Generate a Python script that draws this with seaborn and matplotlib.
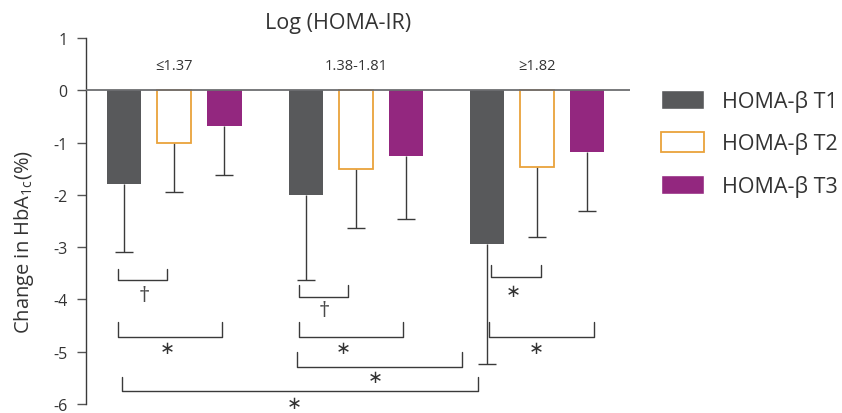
import matplotlib
matplotlib.use("Agg")
import matplotlib.pyplot as plt
from matplotlib.container import BarContainer
import seaborn as sns
import pandas as pd
import numpy as np

# Mean change in HbA1c (%) by HOMA-IR stratum and HOMA-beta tertile
groups = ["\u22641.37", "1.38-1.81", "\u22651.82"]
series = ["HOMA-\u03b2 T1", "HOMA-\u03b2 T2", "HOMA-\u03b2 T3"]
t1_mean = [-1.79, -2.00, -2.94]
t2_mean = [-1.00, -1.50, -1.47]
t3_mean = [-0.68, -1.25, -1.18]
t1_sd = [1.31, 1.62, 2.29]
t2_sd = [0.94, 1.14, 1.33]
t3_sd = [0.94, 1.22, 1.13]
y_ticks = [1, 0, -1, -2, -3, -4, -5, -6]

sns.set_theme(style="white")
plt.rcParams["font.family"] = ["Open Sans", "DejaVu Sans"]
plt.rcParams["axes.unicode_minus"] = False
plt.rcParams["mathtext.default"] = "regular"

TEXT = "#333333"
LINE = "#3a3a3a"
colors = {"HOMA-\u03b2 T1": "#58595b", "HOMA-\u03b2 T2": "#ffffff", "HOMA-\u03b2 T3": "#93277f"}
T2_EDGE = "#e9a23b"

means = [t1_mean, t2_mean, t3_mean]
sds = [t1_sd, t2_sd, t3_sd]
df = pd.DataFrame({
    "group": [g for s in series for g in groups],
    "series": [s for s in series for g in groups],
    "value": [v for m in means for v in m],
})

fig = plt.figure(figsize=(8.42, 4.14), dpi=100)
ax = fig.add_axes([86 / 842, 9 / 414, 544 / 842, 366 / 414])

sns.barplot(data=df, x="group", y="value", hue="series", order=groups,
            hue_order=series, palette=colors, width=0.828, gap=0.32,
            errorbar=None, saturation=1, ax=ax, legend=True, zorder=3)

# Style the open T2 bars and add one-sided (downward) SD whiskers
bar_sets = [c for c in ax.containers if isinstance(c, BarContainer)]
for i, cont in enumerate(bar_sets):
    xs = []
    for p in cont.patches:
        p.set_linewidth(0)
        if i == 1:
            p.set_edgecolor(T2_EDGE)
            p.set_linewidth(1.3)
        xs.append(p.get_x() + p.get_width() / 2)
    eb = ax.errorbar(xs, means[i], yerr=[sds[i], [0] * len(sds[i])], fmt="none",
                     ecolor=LINE, elinewidth=1.0, capsize=6.8, capthick=1.0,
                     zorder=2)
    # keep only the lower cap
    for cap in eb[1]:
        if np.allclose(cap.get_ydata(), means[i]):
            cap.set_visible(False)

ax.axhline(0, color="#6d6e71", lw=1.3, zorder=4)

ax.set_xlim(-0.488, 2.513)
ax.set_ylim(-6, 1)
ax.set_yticks(y_ticks)
ax.set_yticklabels([str(t) for t in y_ticks])
ax.set_xticks([])
ax.set_xlabel("")
ax.set_ylabel("")
for s in ["top", "right", "bottom"]:
    ax.spines[s].set_visible(False)
ax.spines["left"].set_color(LINE)
ax.spines["left"].set_linewidth(1.0)
ax.tick_params(axis="y", left=True, length=6.5, width=1.0, color="#555555",
               pad=7, labelsize=11.5, labelcolor=TEXT)

# Stratum labels above the zero line
for gi, g in enumerate(groups):
    ax.text(gi, 0.47, g, ha="center", va="center", fontsize=10.5, color=TEXT)

# Significance brackets: (x left, x right, tip y, bar y, symbol, symbol x, symbol y)
STAR = "\u2217"
DAGGER = "\u2020"
brackets = [
    (-0.313, -0.043, -3.41, -3.62, DAGGER, -0.168, -3.92),
    (-0.313, 0.262, -4.44, -4.71, STAR, -0.041, -4.90),
    (0.687, 0.957, -3.73, -3.96, DAGGER, 0.825, -4.21),
    (0.687, 1.261, -4.44, -4.71, STAR, 0.930, -4.90),
    (0.676, 1.586, -5.01, -5.30, STAR, 1.106, -5.45),
    (-0.290, 1.673, -5.49, -5.76, STAR, 0.659, -5.95),
    (1.746, 2.022, -3.35, -3.58, STAR, 1.867, -3.81),
    (1.735, 2.314, -4.44, -4.71, STAR, 1.994, -4.90),
]
for x0, x1, yt, yb, sym, sx, sy in brackets:
    ax.plot([x0, x0, x1, x1], [yt, yb, yb, yt], color=LINE, lw=1.0,
            clip_on=False, zorder=5)
    if sym == STAR:
        ax.text(sx, sy, sym, ha="center", va="center_baseline", fontsize=13,
                color=TEXT, clip_on=False, family=["DejaVu Sans"])
    else:
        ax.text(sx, sy, sym, ha="center", va="center", fontsize=16,
                color="#4a4a4a", clip_on=False)

fig.text(338 / 842, 1 - 24 / 414, "Log (HOMA-IR)", ha="center", va="center",
         fontsize=15.5, color=TEXT)
fig.text(24 / 842, 1 - 242 / 414, "Change in HbA$_{1c}$(%)", rotation=90,
         ha="center", va="center", fontsize=14.5, color=TEXT)

handles, labels = ax.get_legend_handles_labels()
leg = ax.legend(handles, labels, loc="upper left",
                bbox_to_anchor=(661 / 842, 1 - 91 / 414),
                bbox_transform=fig.transFigure, frameon=False, borderpad=0,
                fontsize=15.5, handlelength=2.0, handleheight=1.0,
                labelspacing=0.95, handletextpad=0.85, borderaxespad=0)
for t in leg.get_texts():
    t.set_color(TEXT)
lh = leg.legend_handles
lh[1].set_edgecolor(T2_EDGE)
lh[1].set_linewidth(1.3)

fig.savefig("out.png", dpi=100)
